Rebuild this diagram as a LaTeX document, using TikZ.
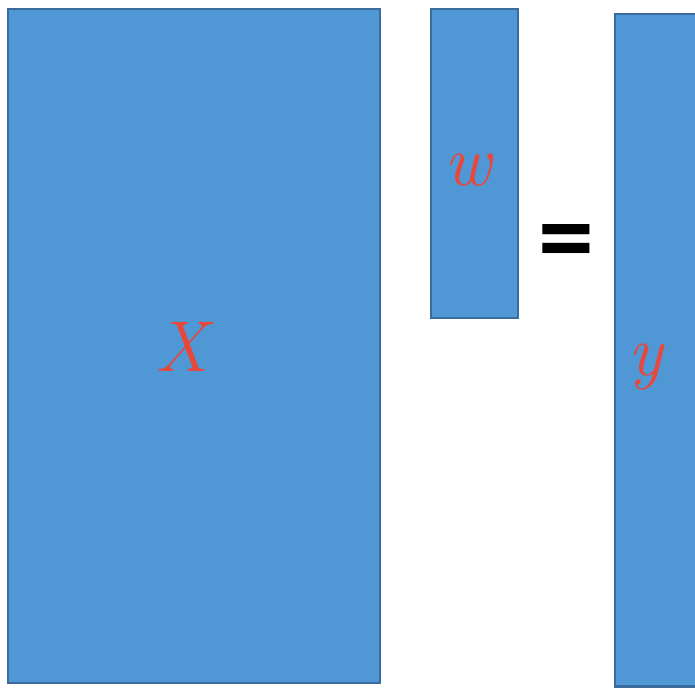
\documentclass[tikz,border=0pt]{standalone}
\usepackage{fontspec}
\usepackage{xcolor}
\usepackage{tikz}
\usetikzlibrary{positioning}

\definecolor{matfill}{HTML}{4F98D5}
\definecolor{matedge}{HTML}{3C6C9E}
\definecolor{matlabel}{HTML}{E8473B}
\newfontfamily\eqfont{Carlito}

\begin{document}
\begin{tikzpicture}[x=1pt, y=-1pt,
        matrixbox/.style={draw=matedge, fill=matfill, line width=2.5pt},
        matlabel/.style={text=matlabel, font=\fontsize{72}{72}\selectfont\itshape, inner sep=0pt}]
        \useasboundingbox (0,0) rectangle (695,688);
        % matrices
        \draw[matrixbox] (8, 9) rectangle (380, 683);
        \draw[matrixbox] (431, 9) rectangle (518, 318);
        \begin{scope}
            \clip (0,0) rectangle (695,688);
            \draw[matrixbox] (615, 14) rectangle (720, 686.5);
        \end{scope}

        \node[matlabel] (labX) at (182, 347) {X};
        \node[matlabel] (labw) at (468, 170) {w};
        \node[matlabel] (laby) at (646, 367) {y};

        % equals sign
        \node[inner sep=0pt, font=\eqfont\bfseries\fontsize{112}{112}\selectfont] (eq) at (566, 250) {=};
\end{tikzpicture}
\end{document}
